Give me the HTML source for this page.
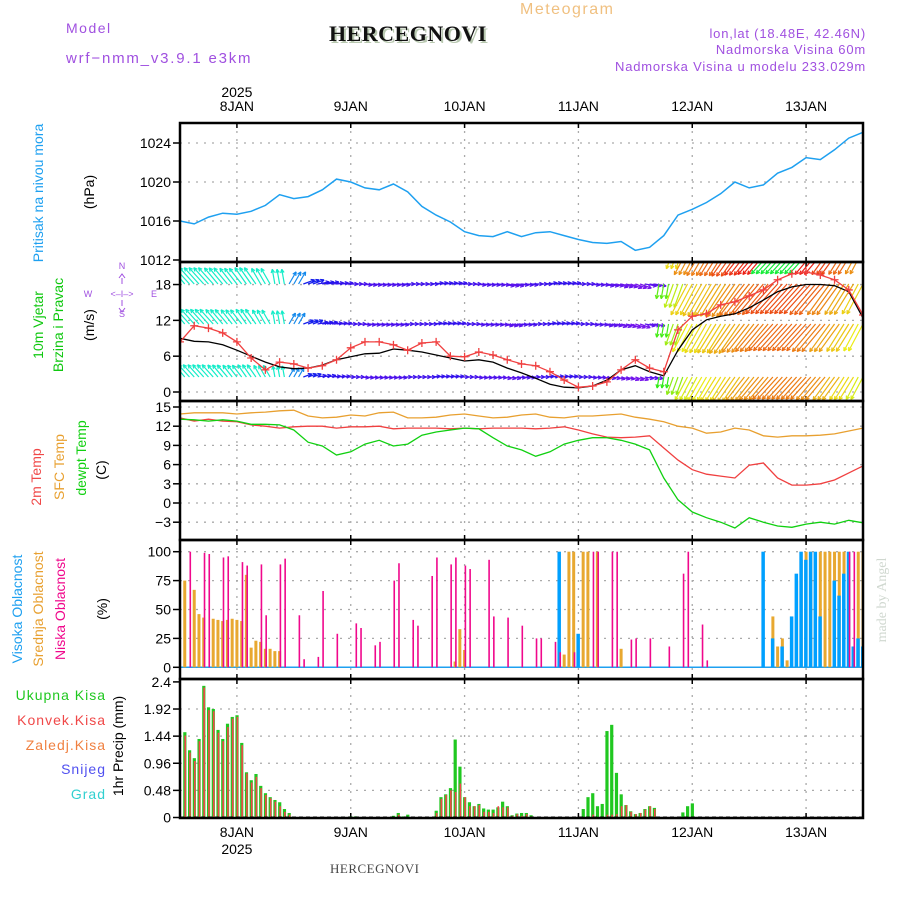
<!DOCTYPE html>
<html><head><meta charset="utf-8"><style>
body{margin:0;background:#fff;width:900px;height:900px;overflow:hidden}
svg text{font-family:"Liberation Sans",sans-serif}
</style></head><body>
<svg id="c" width="900" height="900" xmlns="http://www.w3.org/2000/svg">
<text x="520" y="14" fill="#f0c080" font-size="16" letter-spacing="1.5">Meteogram</text>
<text x="66" y="33" fill="#a050e0" font-size="14" letter-spacing="1.5">Model</text>
<text x="66" y="63" fill="#a050e0" font-size="15" letter-spacing="1.8">wrf−nmm_v3.9.1 e3km</text>
<text x="331" y="43" fill="#b8c8b0" font-size="22" font-weight="bold" letter-spacing="0.5" style="font-family:'Liberation Serif',serif">HERCEGNOVI</text>
<text x="329" y="41" fill="#111" font-size="22" font-weight="bold" letter-spacing="0.5" style="font-family:'Liberation Serif',serif">HERCEGNOVI</text>
<text x="866" y="38" fill="#a050e0" font-size="13" text-anchor="end" letter-spacing="0.8">lon,lat (18.48E, 42.46N)</text>
<text x="866" y="54" fill="#a050e0" font-size="13" text-anchor="end" letter-spacing="0.8">Nadmorska Visina 60m</text>
<text x="866" y="71" fill="#a050e0" font-size="13" text-anchor="end" letter-spacing="0.8">Nadmorska Visina u modelu 233.029m</text>
<text x="330" y="873" fill="#444" font-size="13" letter-spacing="0.5" style="font-family:'Liberation Serif',serif">HERCEGNOVI</text>
<text transform="translate(886,600) rotate(-90)" fill="#d0d8d0" font-size="14" text-anchor="middle" style="font-family:'Liberation Serif',serif">made by Angel</text>
<g id="g"></g>
</svg>
<script>
// ---- data (3-hourly from 7JAN 12h) ----
const pressure=[1016.0,1015.7,1016.4,1016.8,1016.7,1017.0,1017.6,1018.7,1018.3,1018.5,1019.2,1020.3,1020.0,1019.4,1019.2,1019.8,1019.0,1017.5,1016.6,1015.9,1014.9,1014.5,1014.4,1014.9,1014.4,1014.8,1014.9,1014.5,1014.1,1013.8,1013.7,1013.9,1013.0,1013.3,1014.5,1016.6,1017.2,1017.9,1018.8,1020.0,1019.4,1019.7,1020.9,1021.5,1022.5,1022.3,1023.3,1024.5,1025.1];
const windGust=[8.4,11.1,10.7,9.9,8.4,5.7,3.7,5.0,4.7,4.0,4.4,5.4,7.4,8.4,8.4,7.9,7.0,8.2,8.4,6.0,5.9,6.7,6.2,5.4,4.7,4.4,3.4,2.0,0.8,1.0,1.7,3.7,5.4,4.0,3.4,10.4,12.7,13.1,14.6,15.1,16.1,17.1,18.8,19.8,20.1,19.6,18.8,17.1,12.9];
const windMean=[9.0,8.5,8.4,7.9,7.0,6.0,5.0,4.2,3.9,4.0,4.5,5.4,5.9,6.4,6.5,7.2,7.0,6.7,6.2,5.7,5.2,5.4,5.0,4.0,3.2,2.3,1.3,0.8,0.7,1.0,2.0,3.7,4.4,3.4,2.7,7.0,10.4,12.1,12.7,13.1,14.1,15.4,16.8,17.6,18.0,18.0,17.8,16.8,12.4];
const windDir=[320,318,318,320,322,325,330,350,30,70,80,85,90,95,95,95,90,90,85,85,90,95,95,100,95,90,85,85,90,95,100,105,110,100,190,200,208,210,212,215,218,220,222,222,222,220,216,212,208];
const windLen=[22,22,22,21,20,20,18,15,14,12,12,12,12,12,12,12,12,12,12,12,12,12,12,12,12,12,12,12,12,12,12,12,12,12,15,25,35,37,38,40,40,40,40,40,40,40,38,36,34];
const tempSfc=[13.9,14.1,14.1,14.1,13.9,14.1,14.2,14.4,14.5,13.6,13.3,13.4,13.75,13.6,14.1,14.2,13.3,13.3,13.4,13.75,13.9,13.6,13.3,13.4,13.75,13.9,13.4,13.3,13.6,13.6,13.75,13.9,13.4,13.1,12.7,12.0,11.7,10.9,11.1,11.7,11.4,10.5,10.3,10.5,10.5,10.6,10.8,11.25,11.7];
const temp2m=[13.3,12.8,13.1,12.8,12.7,12.2,12.0,11.7,11.9,12.0,12.0,11.7,11.9,11.9,12.0,11.6,11.7,11.7,11.7,11.6,11.7,11.6,11.7,11.7,11.7,11.6,11.7,11.9,11.4,10.8,10.3,10.2,10.3,10.5,8.6,6.7,5.2,4.5,4.2,3.9,5.9,6.25,3.9,2.8,2.8,3.0,3.6,4.7,5.8];
const dewpt=[13.1,13.0,12.8,13.0,12.8,12.3,12.3,12.2,11.4,9.5,8.9,7.5,8.0,9.2,9.8,8.9,9.2,10.6,11.1,11.4,11.7,11.6,10.2,8.9,8.3,7.3,8.0,9.2,9.8,10.2,10.2,9.8,9.2,8.3,3.9,0.5,-1.4,-2.3,-3.0,-3.9,-2.3,-3.0,-3.6,-3.8,-3.3,-3.0,-3.3,-2.7,-3.1];
// clouds (hour index, %)
const lowH=[2,5,6,9,10,13,14,17,18,21,22,25,26,29,30,33,37,38,41,42,45,46,49,50,53,54,57,58,60,61,65,66,69,72,75,76,79,80,83,87,88,91,92,95,96,99,103,106,107,110,111,141,142];
const lowV=[100,99,98,95,96,91,88,89,45,89,94,45,7,9,66,29,38,34,19,22,75,90,41,36,79,95,89,95,88,85,93,44,43,36,25,25,22,13,13,100,100,100,100,24,25,25,18,81,100,37,6,100,100];
const midH=[1,3,4,5,7,8,9,10,11,12,13,14,15,16,17,18,19,20,21,58,59,60,81,82,83,85,86,88,93,125,126,127,128,130,131,132,133,135,136,137,138,139,140,143,144];
const midV=[75,67,46,43,42,41,40,41,42,41,40,80,17,23,22,16,16,14,14,5,33,15,11,100,100,100,100,100,16,44,18,25,6,75,93,100,100,100,100,100,100,100,100,100,100];
const highH=[80,84,123,125,127,129,130,131,132,133,134,135,138,139,140,141,142,143,144];
const highV=[100,29,100,25,18,44,81,100,93,100,100,44,75,62,81,100,18,25,18];
// precipitation (hour index, mm)
const precipH=[1,2,3,4,5,6,7,8,9,10,11,12,13,14,15,16,17,18,19,20,21,22,23,36,37,45,46,47,48,52,54,55,56,57,58,59,60,61,62,63,64,65,66,67,68,69,70,71,72,73,74,85,86,87,88,89,90,91,92,93,94,95,96,97,98,99,100,106,107,108];
const precipTot=[1.51,1.19,1.05,1.39,2.33,1.95,1.92,1.55,1.39,1.66,1.78,1.81,1.32,0.8,0.66,0.77,0.56,0.43,0.36,0.31,0.27,0.15,0.08,0.02,0.02,0.03,0.08,0.02,0.05,0.01,0.12,0.36,0.41,0.52,1.38,0.9,0.36,0.27,0.2,0.24,0.16,0.14,0.14,0.18,0.28,0.2,0.04,0.07,0.08,0.08,0.04,0.15,0.36,0.43,0.2,0.24,1.53,1.64,0.79,0.41,0.22,0.11,0.06,0.08,0.15,0.2,0.17,0.09,0.2,0.25];
const precipConv=[1.45,1.15,1.0,1.35,2.3,1.9,1.88,1.5,1.35,1.6,1.75,1.78,1.28,0.78,0.62,0.72,0.52,0.4,0.34,0.28,0.2,0.1,0.05,0.01,0,0,0.05,0,0,0,0.08,0.33,0.4,0.48,0.45,0.6,0.36,0.2,0.2,0.22,0.1,0.1,0.08,0.2,0.18,0.18,0.03,0.06,0.03,0.06,0.02,0,0.01,0.05,0,0,0.05,0.05,0.06,0.2,0.22,0.1,0.06,0.08,0.14,0.2,0.15,0,0,0];
const dayLabels=["8JAN","9JAN","10JAN","11JAN","12JAN","13JAN"];
const dayHours=[12,36,60,84,108,132];
const pTicks=[1012,1016,1020,1024], wTicks=[0,6,12,18], tTicks=[-3,0,3,6,9,12,15], cTicks=[0,25,50,75,100], rTicks=[0,0.48,0.96,1.44,1.92,2.4];

// ---- scales ----
const X0=180,X1=863,HRS=144;
const X=h=>X0+h*(X1-X0)/HRS;
const Yp=v=>260-(v-1012)*9.75, Yw=v=>392-v*5.97, Yt=v=>503-v*6.4, Yc=v=>667.3-v*1.156, Yr=v=>817.5-v*56.5;
const panels=[[123,262,'pressure-panel'],[262,401,'wind-panel'],[401,540,'temperature-panel'],[540,679,'cloud-panel'],[679,818,'precip-panel']];
const NS='http://www.w3.org/2000/svg', G=document.getElementById('g');
function mk(t,a,p){const e=document.createElementNS(NS,t);for(const k in a)e.setAttribute(k,a[k]);(p||G).appendChild(e);return e;}
function txt(s,x,y,a,p){const e=mk('text',a,p);e.setAttribute('x',x);e.setAttribute('y',y);e.textContent=s;return e;}
const defs=mk('defs',{});
panels.forEach((p,i)=>{const cp=mk('clipPath',{id:'cp'+i},defs);mk('rect',{x:X0,y:p[0],width:X1-X0,height:p[1]-p[0]},cp);});

function yaxis(ticks,Y,pi,fmt,name){
  const g=mk('g',{});
  
  
  ticks.forEach(v=>{const y=Y(v);
    if(y>panels[pi][0]+3&&y<panels[pi][1]-3){const l=mk('line',{x1:X0,x2:X1,y1:y,y2:y,stroke:'#aaa','stroke-width':1.3,'stroke-dasharray':'2,6'},g);}
    mk('line',{x1:X0-7,x2:X0,y1:y,y2:y,stroke:'#000','stroke-width':1.5},g);
    const t=txt(fmt(v),X0-9,y+5,{'font-size':14,'text-anchor':'end',fill:'#000'},g);
    
    
  });
}
yaxis(pTicks,Yp,0,v=>v,'pressure-y-axis');
yaxis(wTicks,Yw,1,v=>v,'wind-y-axis');
yaxis(tTicks,Yt,2,v=>v<0?'−'+(-v):v,'temp-y-axis');
yaxis(cTicks,Yc,3,v=>v,'cloud-y-axis');
yaxis(rTicks,Yr,4,v=>v,'precip-y-axis');
dayHours.forEach((h,i)=>{const x=X(h);
  panels.forEach(p=>{const l=mk('line',{x1:x,x2:x,y1:p[0],y2:p[1],stroke:'#aaa','stroke-width':1.3,'stroke-dasharray':'2,6'});
    mk('line',{x1:x,x2:x,y1:p[0],y2:p[0]+5,stroke:'#000','stroke-width':1.5});mk('line',{x1:x,x2:x,y1:p[1]-5,y2:p[1],stroke:'#000','stroke-width':1.5});});
  const t1=txt(dayLabels[i],x,111,{'font-size':14,'text-anchor':'middle'});
  const t2=txt(dayLabels[i],x,837,{'font-size':14,'text-anchor':'middle'});
});
const ty1=txt('2025',X(12),97,{'font-size':14,'text-anchor':'middle'});


const ty2=txt('2025',X(12),854,{'font-size':14,'text-anchor':'middle'});



function line(arr,Y,col,name,pi,w){const pts=arr.map((v,i)=>X(i*3).toFixed(1)+','+Y(v).toFixed(1)).join(' ');
  const e=mk('polyline',{points:pts,fill:'none',stroke:col,'stroke-width':w||1.3,'clip-path':'url(#cp'+pi+')'});
  return e;}
line(pressure,Yp,'#1ea0f0','pressure-line',0,1.5);

// wind arrows
function hueFor(d){
  if(d>=290||d<20) return 170;
  if(d<140) return 200+Math.min(70,(d-20)*0.75);
  let h=120-(d-185)*2.6; if(h<0)h+=360; if(h>130)h=130; return h;}
// rows: baseline y, length scale, colour offset
const rows=[[284,1.0,3],[324,0.9,0],[377,0.75,-2],[250,0.8,10]];
const wg=mk('g',{'clip-path':'url(#cp1)'});


for(let h=0;h<=HRS;h++){const i=Math.min(48,Math.round(h/3));const x=X(h);
  rows.forEach(r=>{const d=windDir[i];const L=windLen[i]*r[1];const a=d*Math.PI/180;
    const x2=x+L*Math.sin(a),y2=r[0]-L*Math.cos(a);const col='hsl('+hueFor(d>150?d+r[2]:d)+',85%,50%)';
    mk('line',{x1:x,y1:r[0],x2:x2,y2:y2,stroke:col,'stroke-width':1.2},wg);
    [a+Math.PI-0.45,a+Math.PI+0.45].forEach(b=>mk('line',{x1:x2,y1:y2,x2:x2+4*Math.sin(b),y2:y2-4*Math.cos(b),stroke:col,'stroke-width':1.2},wg));
  });}
line(windMean,Yw,'#000','wind-mean-line',1,1.3);
line(windGust,Yw,'#f04040','wind-gust-line',1,1.3);
windGust.forEach((v,i)=>{const x=X(i*3),y=Yw(v);const p=mk('path',{d:`M${x-4},${y}h8M${x},${y-4}v8`,stroke:'#f04040','stroke-width':1.3,'clip-path':'url(#cp1)'});});

line(tempSfc,Yt,'#e8a030','sfc-temp-line',2);
line(temp2m,Yt,'#f04040','2m-temp-line',2);
line(dewpt,Yt,'#10d010','dewpoint-line',2);

mk('line',{x1:X0,x2:X1,y1:Yc(0),y2:Yc(0),stroke:'#1ea0f0','stroke-width':1.5});
function bars(H,V,Y,col,dx,w,name,pi){H.forEach((h,i)=>{const y=Y(V[i]),y0=Y(0);const r=mk('rect',{x:X(h)+dx,y:y,width:w,height:Math.max(0,y0-y),fill:col,'clip-path':'url(#cp'+pi+')'});});}
bars(midH,midV,Yc,'#e8a830',-1.5,3,'mid-cloud-bar',3);
bars(highH,highV,Yc,'#00a0ff',-2,3.5,'high-cloud-bar',3);
bars(lowH,lowV,Yc,'#f0088c',0,1.6,'low-cloud-bar',3);
bars(precipH,precipTot,Yr,'#20c820',-1.5,3.2,'total-precip-bar',4);
bars(precipH,precipConv,Yr,'#f04848',-0.3,1.6,'conv-precip-bar',4);
mk('line',{x1:X0,x2:X1,y1:817,y2:817,stroke:'#000','stroke-width':1,'stroke-dasharray':'4,3'});

panels.forEach(p=>{const r=mk('rect',{x:X0,y:p[0],width:X1-X0,height:p[1]-p[0],fill:'none',stroke:'#000','stroke-width':2.5});});

function vlab(s,x,y,col,name,fs){const t=mk('text',{transform:`translate(${x},${y}) rotate(-90)`,fill:col,'font-size':fs||14,'text-anchor':'middle'});t.textContent=s;}
vlab('Pritisak na nivou mora',43,193,'#1ea0f0','pressure-title');
vlab('(hPa)',94,192,'#000','pressure-unit');
vlab('10m Vjetar',43,325,'#10c810','wind-title');
vlab('Brzina i Pravac',63,325,'#10c810','wind-subtitle');
vlab('(m/s)',94,325,'#000','wind-unit');
vlab('2m Temp',41,477,'#f04848','temp2m-label');
vlab('SFC Temp',64,467,'#e8a030','sfc-temp-label');
vlab('dewpt Temp',86,458,'#10d010','dewpt-label');
vlab('(C)',106,470,'#000','temp-unit');
vlab('Visoka Oblacnost',22,609,'#1ea0f0','high-cloud-label');
vlab('Srednja Oblacnost',43,609,'#e8a030','mid-cloud-label');
vlab('Niska Oblacnost',65,609,'#f0088c','low-cloud-label');
vlab('(%)',107,609,'#000','cloud-unit');
vlab('1hr Precip (mm)',123,746,'#000','precip-unit');
[['Ukupna  Kisa','#20c820',700],['Konvek.Kisa','#f04848',725],['Zaledj.Kisa','#f08040',750],['Snijeg','#5050f0',774],['Grad','#30d0d0',799]].forEach(l=>{const t=txt(l[0],106,l[2],{'font-size':14,'text-anchor':'end',fill:l[1],'letter-spacing':'1'});});
const cg=mk('g',{fill:'#a050e0','font-size':9,'text-anchor':'middle'});


txt('N',122,269,{},cg);txt('S',122,317,{},cg);txt('W',88,297,{},cg);txt('E',154,297,{},cg);
txt('<–I–>',122,297,{},cg);
mk('path',{d:'M119,278l3,-4l3,4M122,278v6M122,300v6M119,308l3,4l3,-4',stroke:'#a050e0',fill:'none','stroke-width':1},cg);
</script>
</body></html>
